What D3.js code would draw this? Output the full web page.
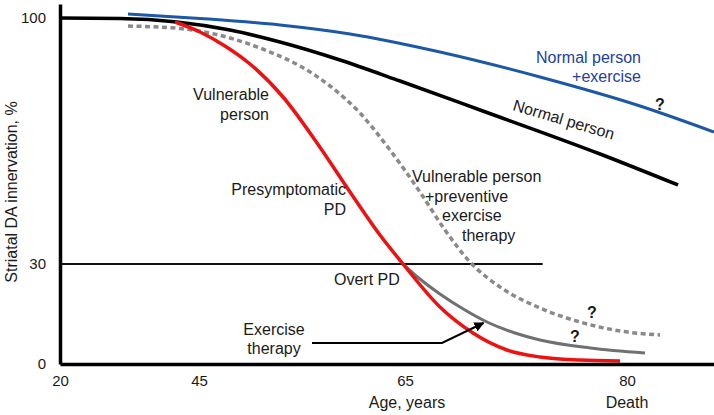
<!DOCTYPE html>
<html>
<head>
<meta charset="utf-8">
<script src="https://cdn.jsdelivr.net/npm/d3@7"></script>
<style>
  body { margin: 0; background: #fff; }
  svg { display: block; font-family: "Liberation Sans", Arial, sans-serif; }
</style>
</head>
<body>
<svg id="vis"></svg>
<script>
// Datos (edad en años, inervación en %)
const X_TICKS = [20, 45, 65, 80];
const Y_TICKS = [0, 30, 100];

const normalAge = [20, 30.79, 41.04, 48.01, 52.86, 58.69, 64.52, 70.07, 78.18, 83.52];
const normalPct = [100, 99.86, 98.86, 96.58, 93.17, 88.05, 82.07, 73.82, 61.3, 52.48];

const exerciseAge = [32.23, 45.1, 52.86, 59.66, 67.36, 74.12, 80.9, 86];
const exercisePct = [101.14, 99.86, 98.01, 95.45, 90.32, 83.21, 74.96, 67.56];

const preventiveAge = [32.23, 41.58, 48.01, 51.89, 54.81, 57.72, 60.63, 63.54, 66.01, 67.7, 69.39, 71.42, 74.12, 76.82, 79.53, 82.28];
const preventivePct = [97.72, 97.01, 94.31, 90.32, 86.34, 80.65, 72.97, 62.44, 50.49, 39.67, 30.57, 23.1, 16.8, 12.6, 9.9, 8.7];

const vulnerableAge = [40.68, 45.1, 47.52, 49.95, 53.16, 56.46, 59.66, 62.57, 64.81, 67.36, 69.59, 71.89, 74.12, 76.82, 79.53];
const vulnerablePct = [98.86, 96.02, 92.03, 86.91, 77.52, 64.43, 50.49, 38.25, 30, 17.1, 9.3, 4.2, 2.1, 1.2, 0.9];

const therapyAge = [64.81, 66.01, 67.36, 69.05, 70.54, 72.43, 74.12, 77.5, 81.24];
const therapyPct = [30, 25.5, 21, 16.2, 12.6, 9.3, 7.2, 4.8, 3.3];

const thresholdAge = [20, 74.3];
const thresholdPct = [30, 30];

const arrowAge = [55.97, 67.5, 70.3];
const arrowPct = [6.3, 6.3, 12.3];

const WIDTH = 714;
const HEIGHT = 415;
const FONT = "'Liberation Sans', Arial, sans-serif";
const TEXT = "#1a1a1a";

const svg = d3.select("#vis")
    .attr("width", WIDTH)
    .attr("height", HEIGHT);

// Escalas por tramos (el eje del original no es lineal)
const x = d3.scaleLinear()
    .domain([20, 45, 65, 80, 86])
    .range([60, 199, 405, 627, 714]);

const y = d3.scaleLinear()
    .domain([0, 30, 100, 104])
    .range([364, 264, 18, 4]);

const zip = (a, b) => a.map((v, i) => [v, b[i]]);

const line = d3.line()
    .x(d => x(d[0]))
    .y(d => y(d[1]))
    .curve(d3.curveMonotoneX);

const straight = d3.line()
    .x(d => x(d[0]))
    .y(d => y(d[1]));

// Línea del 30 %
svg.append("path")
    .datum(zip(thresholdAge, thresholdPct))
    .attr("d", straight)
    .attr("stroke", "#111")
    .attr("stroke-width", 2)
    .attr("fill", "none");

// Curvas
const series = [
    { age: preventiveAge, pct: preventivePct, color: "#8a8a8a", w: 3.5, dash: "5,3.5" },
    { age: exerciseAge, pct: exercisePct, color: "#1c58a6", w: 3, dash: null },
    { age: normalAge, pct: normalPct, color: "#000", w: 3.5, dash: null },
    { age: therapyAge, pct: therapyPct, color: "#707070", w: 3, dash: null },
    { age: vulnerableAge, pct: vulnerablePct, color: "#ee1111", w: 3.5, dash: null },
];

svg.append("g")
    .selectAll("path")
    .data(series)
    .join("path")
    .attr("d", d => line(zip(d.age, d.pct)))
    .attr("fill", "none")
    .attr("stroke", d => d.color)
    .attr("stroke-width", d => d.w)
    .attr("stroke-dasharray", d => d.dash);

// Flecha "Exercise therapy"
svg.append("defs").append("marker")
    .attr("id", "head")
    .attr("viewBox", "0 0 10 10")
    .attr("refX", 9)
    .attr("refY", 5)
    .attr("markerWidth", 5)
    .attr("markerHeight", 5)
    .attr("markerUnits", "strokeWidth")
    .attr("orient", "auto")
    .append("path")
    .attr("d", "M0,0L10,5L0,10z")
    .attr("fill", "#000");

svg.append("path")
    .datum(zip(arrowAge, arrowPct))
    .attr("d", straight)
    .attr("fill", "none")
    .attr("stroke", "#000")
    .attr("stroke-width", 2)
    .attr("marker-end", "url(#head)");

// Ejes
const ejeX = svg.append("g")
    .attr("transform", `translate(0, ${y(0)})`)
    .call(d3.axisBottom(x).tickValues(X_TICKS).tickSize(0).tickSizeOuter(0).tickPadding(11));

const ejeY = svg.append("g")
    .attr("transform", `translate(${x(20)}, 0)`)
    .call(d3.axisLeft(y).tickValues(Y_TICKS).tickSize(0).tickSizeOuter(0).tickPadding(14));

[ejeX, ejeY].forEach(g => {
    g.attr("font-family", FONT).attr("font-size", 15);
    g.select(".domain").attr("stroke", "#000").attr("stroke-width", 3.5);
    g.selectAll("text").attr("fill", TEXT);
});

// Nombres de ejes
svg.append("text")
    .attr("transform", `translate(17, ${(y(0) + y(100)) / 2 + 1}) rotate(-90)`)
    .attr("text-anchor", "middle")
    .attr("font-size", 16)
    .attr("fill", TEXT)
    .text("Striatal DA innervation, %");

svg.append("text")
    .attr("x", x(65) + 2)
    .attr("y", 408)
    .attr("text-anchor", "middle")
    .attr("font-size", 16)
    .attr("fill", TEXT)
    .text("Age, years");

svg.append("text")
    .attr("x", x(80))
    .attr("y", 408)
    .attr("text-anchor", "middle")
    .attr("font-size", 16)
    .attr("fill", TEXT)
    .text("Death");

// Etiquetas
function label(lines, px, py, anchor, color, step) {
    const t = svg.append("text")
        .attr("font-size", 16)
        .attr("fill", color || TEXT)
        .attr("text-anchor", anchor);
    lines.forEach((s, i) => {
        t.append("tspan")
            .attr("x", Array.isArray(px) ? px[i] : px)
            .attr("y", py + i * (step || 19.5))
            .text(s);
    });
    return t;
}

label(["Normal person", "+exercise"], 641, 63, "end", "#23409c", 19);
label(["Vulnerable", "person"], 269, 100, "end", null, 19.5);
label(["Presymptomatic", "PD"], 346, 195, "end", null, 20);
label(["Vulnerable person", "+preventive", "exercise", "therapy"], [412, 425, 442, 462], 182, "start", null, 19.5);
label(["Overt PD"], 334, 285, "start");
label(["Exercise", "therapy"], 274, 335, "middle", null, 18.5);

svg.append("text")
    .attr("transform", "translate(512, 110) rotate(16.5)")
    .attr("font-size", 16)
    .attr("fill", TEXT)
    .text("Normal person");

// Signos de interrogación
const qx = [660, 592, 575];
const qy = [110, 318, 342];
svg.append("g")
    .selectAll("text")
    .data(qx)
    .join("text")
    .attr("x", d => d)
    .attr("y", (d, i) => qy[i])
    .attr("text-anchor", "middle")
    .attr("font-size", 16)
    .attr("font-weight", "bold")
    .attr("fill", TEXT)
    .text("?");
</script>
</body>
</html>
